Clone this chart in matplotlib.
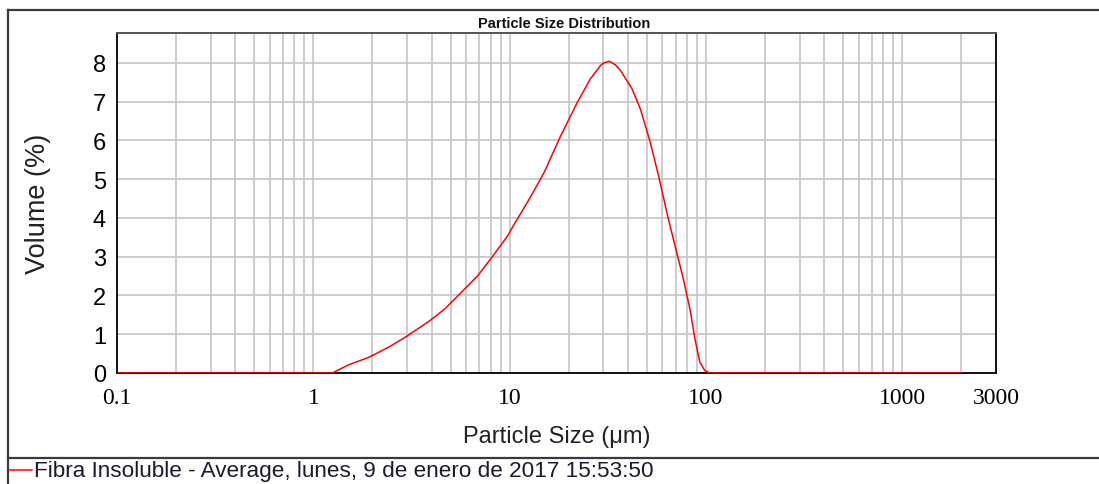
import numpy as np
import matplotlib
matplotlib.use("Agg")
import matplotlib.pyplot as plt
from matplotlib.lines import Line2D
from matplotlib.ticker import FixedLocator, NullFormatter


# particle size (um) and volume (%) of the averaged measurement
SIZE_UM = [0.1, 1.25, 1.51, 1.91, 2.41, 2.93, 3.85, 4.67, 5.67, 6.88, 8.36,
           9.77, 10.5, 12.8, 15.0, 18.2, 22.1, 25.8, 29.0, 30.2, 32.2, 34.5,
           36.6, 42.0, 46.3, 52.0, 57.3, 64.3, 70.9, 76.6, 82.8, 87.8, 93.0,
           98.6, 104.5, 2000.0]
VOLUME_PCT = [0.0, 0.0, 0.21, 0.40, 0.66, 0.92, 1.32, 1.65, 2.08, 2.51, 3.07,
              3.54, 3.82, 4.55, 5.18, 6.12, 6.98, 7.59, 7.93, 8.00, 8.04, 7.95,
              7.81, 7.33, 6.81, 5.95, 5.09, 3.97, 3.11, 2.43, 1.65, 0.88, 0.28,
              0.06, 0.0, 0.0]

X_TICKS = [0.1, 1, 10, 100, 1000, 3000]
X_TICK_LABELS = ["0.1", "1", "10", "100", "1000", "3000"]
Y_TICKS = [0, 1, 2, 3, 4, 5, 6, 7, 8]

SERIES_NAME = "Fibra Insoluble - Average, lunes, 9 de enero de 2017 15:53:50"

NARROW = ["Liberation Sans Narrow", "Liberation Sans", "DejaVu Sans"]
SERIF = ["Liberation Serif", "DejaVu Serif"]
GRID_COLOR = "#c8c8c8"
FRAME_COLOR = "#3a3a3a"


def main():
    fig = plt.figure(figsize=(10.99, 4.85), dpi=100)
    ax = fig.add_axes([0.1065, 0.2289, 0.7998, 0.7010])

    ax.plot(SIZE_UM, VOLUME_PCT, color="#ff0000", linewidth=1.1,
            solid_joinstyle="round", zorder=3)

    ax.set_xscale("log")
    ax.set_xlim(0.1, 3000)
    ax.set_ylim(0, 8.77)

    # vertical grid at every 1..9 multiple, horizontal at each unit
    minor = [m * 10.0 ** e for e in range(-1, 4) for m in range(1, 10)
             if 0.1 < m * 10.0 ** e < 3000]
    ax.xaxis.set_minor_locator(FixedLocator(minor))
    ax.xaxis.set_minor_formatter(NullFormatter())
    ax.set_xticks(X_TICKS)
    ax.set_xticklabels(X_TICK_LABELS, family=SERIF, fontsize=17)
    ax.set_yticks(Y_TICKS)
    ax.set_yticklabels([str(v) for v in Y_TICKS], family=NARROW, fontsize=17)
    ax.tick_params(axis="both", which="both", length=0)
    ax.tick_params(axis="x", pad=10)
    ax.tick_params(axis="y", pad=8)
    ax.grid(True, which="both", axis="x", color=GRID_COLOR, linewidth=1.3)
    ax.grid(True, which="major", axis="y", color=GRID_COLOR, linewidth=1.3)
    ax.set_axisbelow(True)

    for side, spine in ax.spines.items():
        spine.set_color("#111111" if side in ("left", "bottom", "right") else "#555555")
        spine.set_linewidth(1.4)

    ax.set_xlabel("Particle Size (\u03bcm)", family=NARROW, fontsize=17,
                  labelpad=12, color="#222222")
    ax.set_ylabel("Volume (%)", family=["Liberation Sans", "DejaVu Sans"],
                  fontsize=19.5, labelpad=30, color="#222222")

    fig.text(0.513, 0.950, "Particle Size Distribution", family=NARROW,
             fontsize=10.5, fontweight="bold", ha="center", va="center",
             color="#111111")

    # outer report frame and legend separator
    fig.add_artist(Line2D([0.0073, 1.0], [0.977, 0.977], color=FRAME_COLOR,
                          linewidth=1.6))
    fig.add_artist(Line2D([0.0073, 0.0073], [0.0, 0.977], color=FRAME_COLOR,
                          linewidth=1.6))
    fig.add_artist(Line2D([0.0073, 1.0], [0.0536, 0.0536], color=FRAME_COLOR,
                          linewidth=1.6))

    # legend entry
    fig.add_artist(Line2D([0.0073, 0.029], [0.029, 0.029], color="#ff0000",
                          linewidth=1.1))
    fig.text(0.031, 0.027, SERIES_NAME, family=NARROW, fontsize=16.2,
             ha="left", va="center", color="#1a1a2e")

    fig.savefig("out.png", dpi=100)
    plt.close(fig)


if __name__ == "__main__":
    main()
